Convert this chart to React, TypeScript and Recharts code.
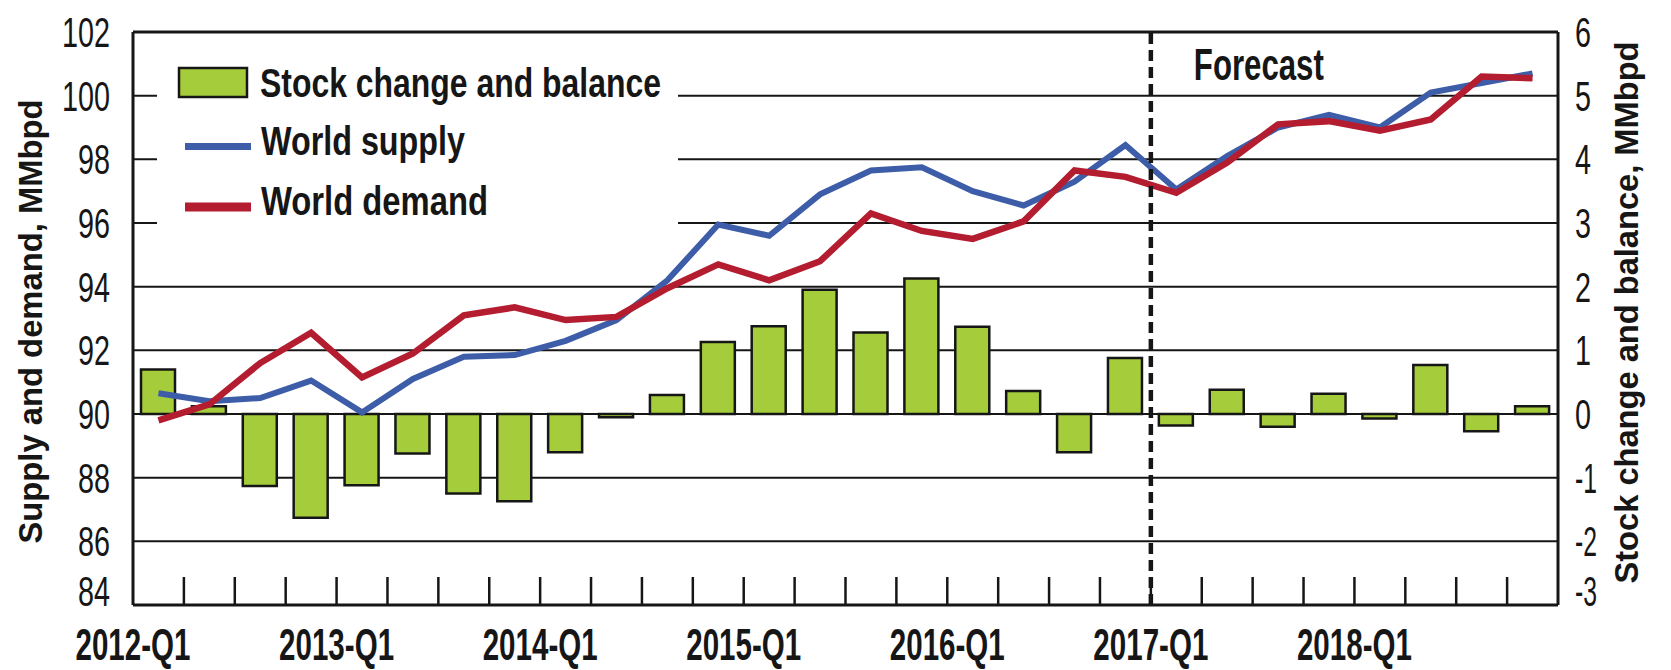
import React from "react"
import { ComposedChart, Bar, Line, XAxis, YAxis, CartesianGrid, ReferenceLine, Legend } from "recharts"

// quarterly categories
const quarters = [
  "2012-Q1", "2012-Q2", "2012-Q3", "2012-Q4",
  "2013-Q1", "2013-Q2", "2013-Q3", "2013-Q4",
  "2014-Q1", "2014-Q2", "2014-Q3", "2014-Q4",
  "2015-Q1", "2015-Q2", "2015-Q3", "2015-Q4",
  "2016-Q1", "2016-Q2", "2016-Q3", "2016-Q4",
  "2017-Q1", "2017-Q2", "2017-Q3", "2017-Q4",
  "2018-Q1", "2018-Q2", "2018-Q3", "2018-Q4",
]

// MMbpd, right axis
const stockChange = [
  0.7, 0.12, -1.13, -1.63, -1.12, -0.62, -1.25, -1.37,
  -0.6, -0.05, 0.3, 1.13, 1.38, 1.95, 1.28, 2.13,
  1.37, 0.36, -0.6, 0.88, -0.18, 0.38, -0.2, 0.32,
  -0.07, 0.77, -0.27, 0.12,
]

// MMbpd, left axis
const worldSupply = [
  90.65, 90.4, 90.5, 91.05, 90.05, 91.1, 91.8, 91.85,
  92.3, 92.95, 94.2, 95.95, 95.6, 96.9, 97.65, 97.75,
  97.0, 96.55, 97.3, 98.45, 97.05, 98.1, 99.0, 99.4,
  99.0, 100.1, 100.4, 100.7,
]

const worldDemand = [
  89.8, 90.3, 91.6, 92.55, 91.15, 91.9, 93.1, 93.35,
  92.95, 93.05, 93.95, 94.7, 94.2, 94.8, 96.3, 95.75,
  95.5, 96.05, 97.65, 97.45, 96.95, 97.9, 99.1, 99.2,
  98.9, 99.25, 100.6, 100.55,
]

const leftTicks = [84, 86, 88, 90, 92, 94, 96, 98, 100, 102]
const rightTicks = [-3, -2, -1, 0, 1, 2, 3, 4, 5, 6]
const forecastStart = "2017-Q1"

const data = quarters.map((q, i) => ({
  q,
  stock: stockChange[i],
  supply: worldSupply[i],
  demand: worldDemand[i],
}))

const W = 1671
const H = 670
const LEFT_W = 133
const RIGHT_W = 113
const TOP = 32
const BOTTOM_H = 65
const BAND = (W - LEFT_W - RIGHT_W) / quarters.length

const FONT = '"Liberation Sans Narrow", "Liberation Sans", Arial, sans-serif'
const INK = "#161616"
const GREEN = "#a5cd3b"
const BLUE = "#3d5da8"
const RED = "#b31d2f"
const TICK_FS = 43

function LeftTick(props: any) {
  const { x, y, payload } = props
  const s = String(payload.value)
  // bottom label is squeezed up above the axis line
  const shift = payload.value === 84 ? -14 : 0
  return (
    <text x={x} y={y + 15 + shift} textAnchor="end" fontFamily={FONT} fontSize={TICK_FS} fill={INK}
      textLength={s.length * 16} lengthAdjust="spacingAndGlyphs">{s}</text>
  )
}

function RightTick(props: any) {
  const { x, y, payload } = props
  const s = String(payload.value)
  const shift = payload.value === -3 ? -14 : 0
  const len = s.replace("-", "").length * 16 + (s.startsWith("-") ? 6 : 0)
  return (
    <text x={x} y={y + 15 + shift} textAnchor="start" fontFamily={FONT} fontSize={TICK_FS} fill={INK}
      textLength={len} lengthAdjust="spacingAndGlyphs">{s}</text>
  )
}

function QuarterTick(props: any) {
  const { x, y, payload } = props
  const half = typeof payload.offset === "number" && payload.offset > 0 ? payload.offset : BAND / 2
  const bx = x - half
  const isYear = String(payload.value).endsWith("Q1")
  return (
    <g>
      {payload.index > 0 && <line x1={bx} x2={bx} y1={y} y2={y - 28} stroke={INK} strokeWidth={2.5} />}
      {isYear && (
        <text x={bx} y={y + 55} textAnchor="middle" fontFamily={FONT} fontSize={45} fontWeight="bold" fill={INK}
          textLength={115} lengthAdjust="spacingAndGlyphs">{payload.value}</text>
      )}
    </g>
  )
}

function LeftTitle(props: any) {
  const vb = props.viewBox
  const cx = 42
  const cy = vb.y + vb.height / 2 + 3
  return (
    <text x={cx} y={cy} transform={`rotate(-90, ${cx}, ${cy})`} textAnchor="middle" fontFamily={FONT}
      fontSize={33} fontWeight="bold" fill={INK} textLength={444} lengthAdjust="spacingAndGlyphs">
      Supply and demand, MMbpd
    </text>
  )
}

function RightTitle(props: any) {
  const vb = props.viewBox
  const cx = 1638
  const cy = vb.y + vb.height / 2 - 6
  return (
    <text x={cx} y={cy} transform={`rotate(-90, ${cx}, ${cy})`} textAnchor="middle" fontFamily={FONT}
      fontSize={33} fontWeight="bold" fill={INK} textLength={542} lengthAdjust="spacingAndGlyphs">
      Stock change and balance, MMbpd
    </text>
  )
}

function ForecastLabel(props: any) {
  const vb = props.viewBox
  return (
    <text x={vb.x + 43} y={vb.y + 48} fontFamily={FONT} fontSize={44} fontWeight="bold" fill={INK}
      textLength={130} lengthAdjust="spacingAndGlyphs">Forecast</text>
  )
}

function renderLegend() {
  const txt = { fontFamily: FONT, fontSize: 40, fontWeight: "bold" as const, fill: INK }
  return (
    <svg width={600} height={195} style={{ display: "block", overflow: "visible" }}>
      {/* white panel hides the gridlines behind the legend */}
      <rect x={0} y={0} width={521} height={195} fill="#fff" />
      <rect x={22} y={18} width={68} height={29} fill={GREEN} stroke={INK} strokeWidth={2.5} />
      <text x={103} y={47} {...txt} textLength={401} lengthAdjust="spacingAndGlyphs">Stock change and balance</text>
      <line x1={28} x2={94} y1={96.5} y2={96.5} stroke={BLUE} strokeWidth={7} />
      <text x={104} y={105} {...txt} textLength={204} lengthAdjust="spacingAndGlyphs">World supply</text>
      <line x1={28} x2={94} y1={157} y2={157} stroke={RED} strokeWidth={9} />
      <text x={104} y={165} {...txt} textLength={227} lengthAdjust="spacingAndGlyphs">World demand</text>
    </svg>
  )
}

export default function App() {
  return (
    <div style={{ position: "absolute", left: 0, top: 0, width: W, height: H, background: "#fff" }}>
      <ComposedChart width={W} height={H} data={data} margin={{ top: TOP, right: 0, bottom: 0, left: 0 }}>
        <CartesianGrid yAxisId="left" vertical={false} stroke={INK} strokeWidth={2} />
        <XAxis dataKey="q" height={BOTTOM_H} interval={0} tickSize={0} tickMargin={0}
          axisLine={{ stroke: INK, strokeWidth: 3 }} tickLine={false} tick={<QuarterTick />} />
        <YAxis yAxisId="left" orientation="left" width={LEFT_W} domain={[84, 102]} ticks={leftTicks}
          allowDataOverflow interval={0} tickSize={0} tickMargin={23} tickLine={false}
          axisLine={{ stroke: INK, strokeWidth: 3 }} tick={<LeftTick />} label={{ content: <LeftTitle /> }} />
        <YAxis yAxisId="right" orientation="right" width={RIGHT_W} domain={[-3, 6]} ticks={rightTicks}
          allowDataOverflow interval={0} tickSize={0} tickMargin={17} tickLine={false}
          axisLine={{ stroke: INK, strokeWidth: 3 }} tick={<RightTick />} label={{ content: <RightTitle /> }} />
        <Legend layout="vertical" align="center" verticalAlign="middle" content={renderLegend}
          wrapperStyle={{ left: 157, top: 50, width: 600, height: 195 }} />
        <ReferenceLine yAxisId="left" y={102} stroke={INK} strokeWidth={3} />
        <Bar yAxisId="right" dataKey="stock" name="Stock change and balance" fill={GREEN} stroke={INK}
          strokeWidth={2.5} barSize={34} isAnimationActive={false} />
        <Line yAxisId="left" type="linear" dataKey="supply" name="World supply" stroke={BLUE} strokeWidth={6}
          dot={false} isAnimationActive={false} />
        <Line yAxisId="left" type="linear" dataKey="demand" name="World demand" stroke={RED} strokeWidth={6.5}
          dot={false} isAnimationActive={false} />
        <ReferenceLine yAxisId="left" x={forecastStart} position="start" stroke={INK} strokeWidth={4.5}
          strokeDasharray="11 6" label={{ content: <ForecastLabel /> }} />
      </ComposedChart>
    </div>
  )
}
